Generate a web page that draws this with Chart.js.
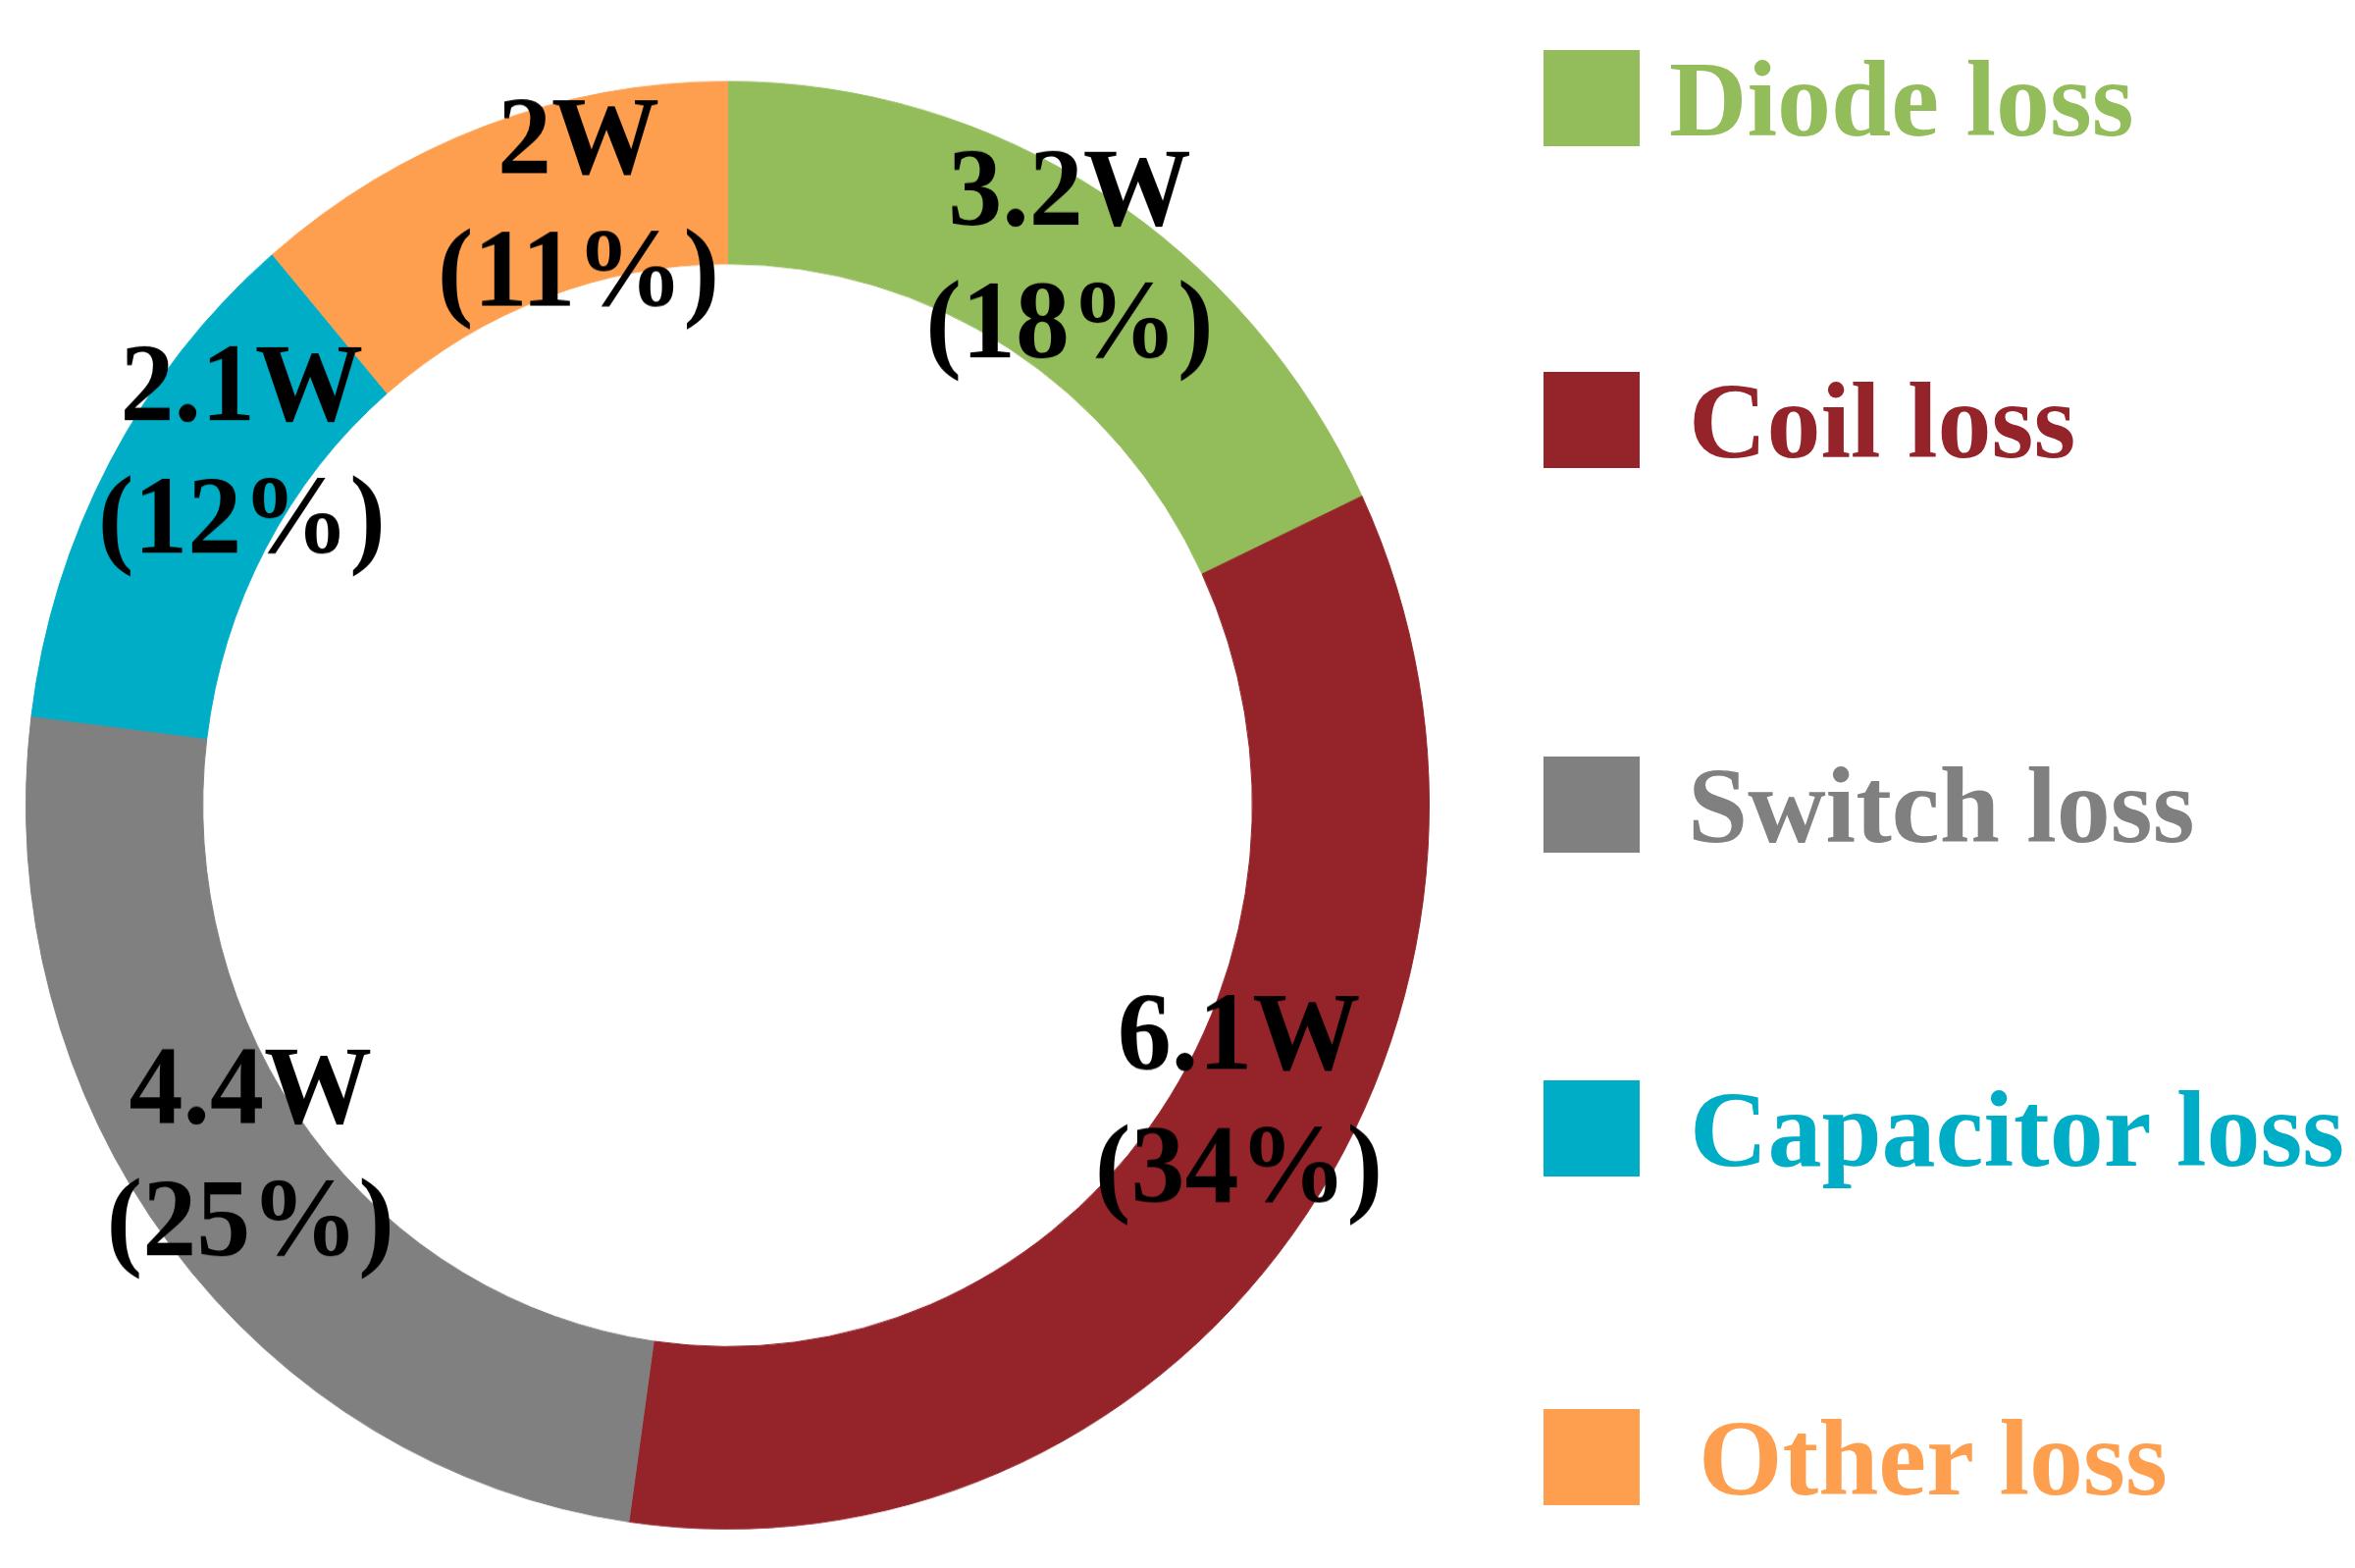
<!DOCTYPE html>
<html>
<head>
<meta charset="utf-8">
<script src="https://cdn.jsdelivr.net/npm/chart.js@4.4.0/dist/chart.umd.min.js"></script>
<style>
  html, body { margin: 0; padding: 0; background: #fff; }
  body { width: 2400px; height: 1598px; position: relative; overflow: hidden; }
  #wrap { position: absolute; left: 0; top: 0; width: 2400px; height: 1549px;
          transform: scaleY(1.0316); transform-origin: 0 0; }
  .key { position: absolute; width: 98px; height: 98px; }
  .lbl { position: absolute; font: bold 110px 'Liberation Serif', 'Times New Roman', serif;
         line-height: 110px; white-space: nowrap; }
</style>
</head>
<body>
<div id="wrap"><canvas id="myChart"></canvas></div>
<div id="legend"></div>
<script>
const perdidas = ['Diode loss', 'Coil loss', 'Switch loss', 'Capacitor loss', 'Other loss'];
const potencias = [3.2, 6.1, 4.4, 2.1, 2];
const colores = ['#93BC5A', '#95242A', '#808080', '#00ADC6', '#FE9F50'];

// desplazamiento de cada etiqueta respecto al centro del arco
const ajusteEtiquetas = [[14, -17], [18, -81], [10, -37], [55, -55], [64, -9]];

// leyenda a mano: centro vertical y comienzo del texto de cada fila
const filasLeyenda = [[100, 1701], [428, 1721], [820, 1720], [1150, 1722], [1485, 1731]];

const total = potencias.reduce((a, b) => a + b, 0);

const etiquetas = {
  id: 'etiquetas',
  afterDatasetsDraw(chart) {
    const c = chart.ctx;
    const arcos = chart.getDatasetMeta(0).data;
    c.save();
    c.fillStyle = '#000';
    c.font = "bold 110px 'Liberation Serif', 'Times New Roman', serif";
    c.textAlign = 'center';
    c.textBaseline = 'alphabetic';
    arcos.forEach((arco, i) => {
      const p = arco.tooltipPosition();
      const x = p.x + ajusteEtiquetas[i][0];
      const y = p.y + ajusteEtiquetas[i][1];
      const pct = Math.round(potencias[i] / total * 100);
      c.fillText(potencias[i] + 'W', x, y - 29);
      c.fillText('(' + pct + '%)', x, y + 102);
    });
    c.restore();
  }
};

const ctx = document.getElementById('myChart').getContext('2d');
const myChart = new Chart(ctx, {
  type: 'doughnut',
  data: {
    labels: perdidas,
    datasets: [{
      data: potencias,
      backgroundColor: colores,
      borderColor: colores,
      borderWidth: 1
    }]
  },
  options: {
    responsive: true,
    maintainAspectRatio: false,
    animation: false,
    cutout: '74.8%',
    layout: { padding: { left: 26, top: 80, right: 943, bottom: 38 } },
    plugins: {
      legend: { display: false },
      tooltip: { enabled: false }
    }
  },
  plugins: [etiquetas]
});

const leyenda = document.getElementById('legend');
perdidas.forEach((nombre, i) => {
  const cuadro = document.createElement('div');
  cuadro.className = 'key';
  cuadro.style.left = '1573px';
  cuadro.style.top = (filasLeyenda[i][0] - 49) + 'px';
  cuadro.style.background = colores[i];
  leyenda.appendChild(cuadro);

  const texto = document.createElement('div');
  texto.className = 'lbl';
  texto.style.left = filasLeyenda[i][1] + 'px';
  texto.style.top = (filasLeyenda[i][0] - 54) + 'px';
  texto.style.color = colores[i];
  texto.textContent = nombre;
  leyenda.appendChild(texto);
});
</script>
</body>
</html>
